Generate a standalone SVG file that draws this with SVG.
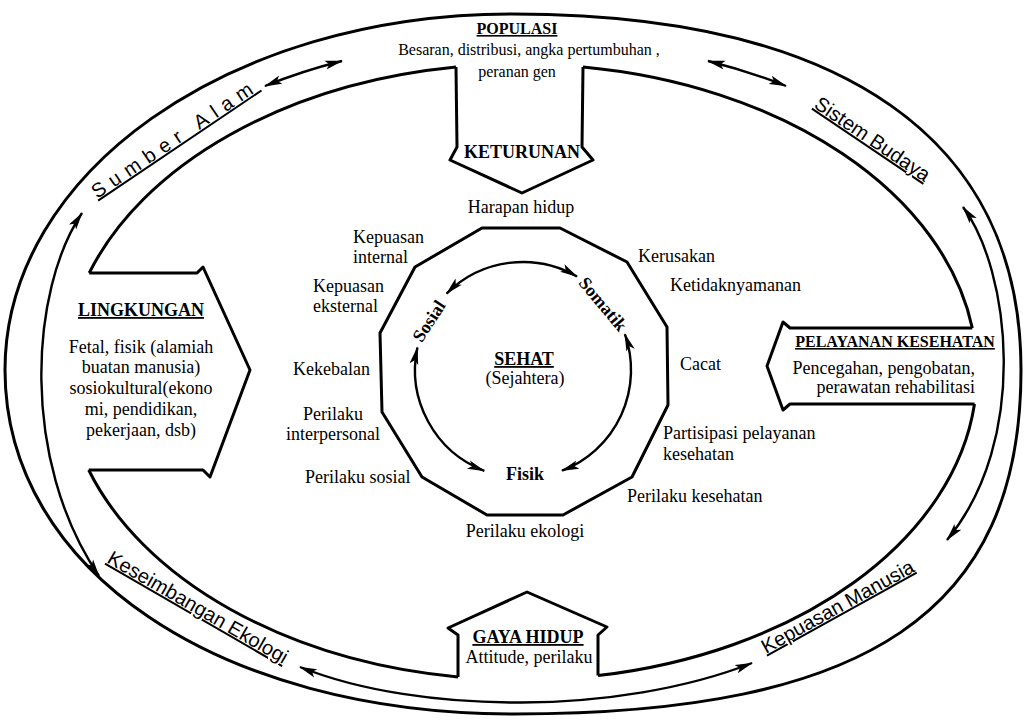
<svg xmlns="http://www.w3.org/2000/svg" width="1024" height="720" viewBox="0 0 1024 720">
  <style>
    .s { font-family: "Liberation Serif", "Times New Roman", serif; font-size: 18px; fill: #000; }
    .m { text-anchor: middle; }
    .b { font-weight: bold; }
    .u { text-decoration: underline; }
    .sm { font-size: 16px; }
    .band { font-family: "Liberation Sans", Arial, sans-serif; font-size: 20px; fill: #000; text-decoration: underline; }
    .ln { fill: none; stroke: #000; stroke-width: 3; stroke-linejoin: round; }
    .ar { fill: none; stroke: #000; stroke-width: 2.4; marker-start: url(#head); marker-end: url(#head); }
  </style>
  <defs>
    <marker id="head" markerUnits="userSpaceOnUse" markerWidth="18" markerHeight="10" refX="17" refY="5" orient="auto-start-reverse">
      <path d="M0,0.6 L18,5 L0,9.4 L4,5 z" fill="#000"/>
    </marker>
  </defs>
  <rect width="1024" height="720" fill="#fff"/>

  <!-- outer ring and the inner wall of the band -->
  <g id="ring">
    <path class="ln" d="M5 370 C5 173 228 14 512 14 C843 14 1021 139 1021 370 C1021 611 869 714 514 714 C219 714 5 570 5 370 Z"/>
    <path class="ln" d="M456 67 A456 308 0 0 0 89.2 273"/>
    <path class="ln" d="M88.7 470 A456 308 0 0 0 458 677"/>
    <path class="ln" d="M598 675.6 A456 308 0 0 0 974.5 404"/>
    <path class="ln" d="M972.3 328 A456 308 0 0 0 583 67"/>
  </g>

  <!-- band labels -->
  <g id="band-labels">
    <text class="band" x="97" y="199" letter-spacing="7" transform="rotate(-34 97 199)">Sumber Alam</text>
    <text class="band" x="813" y="107" transform="rotate(34 813 107)">Sistem Budaya</text>
    <text class="band" x="106" y="562" transform="rotate(30 106 562)">Keseimbangan Ekologi</text>
    <text class="band" x="766" y="654" font-size="21" transform="rotate(-29 766 654)">Kepuasan Manusia</text>
  </g>

  <!-- two-way flows around the band and around the centre -->
  <g id="connectors">
    <path class="ar" d="M265 86 Q302 71 342 61"/>
    <path class="ar" d="M708 61 Q748 71 786 86"/>
    <path class="ar" d="M82 213 C30 290 20 460 99 576"/>
    <path class="ar" d="M963 207 C1010 270 1030 440 947 540"/>
    <path class="ar" d="M300 667 C420 715 620 715 752 663"/>
    <path class="ar" d="M446.6 293.6 A108 108 0 0 1 577 276.5"/>
    <path class="ar" d="M624.9 334.1 A108 108 0 0 1 562 470.7"/>
    <path class="ar" d="M417.4 347.5 A108 108 0 0 0 484.3 470.8"/>
  </g>

  <!-- POPULASI / KETURUNAN -->
  <g id="node-populasi">
    <path class="ln" d="M456 67 L457 147 L450 160 L522 193 L593 160 L582 147 L583 67"/>
    <text class="s sm b u m" x="517" y="34">POPULASI</text>
    <text class="s sm m" x="529" y="55">Besaran, distribusi, angka pertumbuhan ,</text>
    <text class="s sm m" x="517" y="77">peranan gen</text>
    <text class="s b m" x="522" y="158">KETURUNAN</text>
  </g>

  <!-- LINGKUNGAN -->
  <g id="node-lingkungan">
    <path class="ln" d="M89.2 273 L197 273 L203 267 L250 370 L210 477 L203 470 L88.7 470"/>
    <text class="s b u m" x="141" y="316">LINGKUNGAN</text>
    <text class="s m" x="141" y="353">Fetal, fisik (alamiah</text>
    <text class="s m" x="141" y="373">buatan manusia)</text>
    <text class="s m" x="141" y="394">sosiokultural(ekono</text>
    <text class="s m" x="141" y="415">mi, pendidikan,</text>
    <text class="s m" x="141" y="436">pekerjaan, dsb)</text>
  </g>

  <!-- PELAYANAN KESEHATAN -->
  <g id="node-pelayanan">
    <path class="ln" d="M972.3 328 L790 328 L783 322 L767 366 L783 410 L790 404 L974.5 404"/>
    <text class="s sm b u m" x="895" y="347">PELAYANAN KESEHATAN</text>
    <text class="s" x="975" y="374" text-anchor="end" font-size="17.5">Pencegahan, pengobatan,</text>
    <text class="s" x="975" y="393" text-anchor="end" font-size="17.5">perawatan rehabilitasi</text>
  </g>

  <!-- GAYA HIDUP -->
  <g id="node-gaya-hidup">
    <path class="ln" d="M458 677 L458 635 L448 628 L527 592 L607 627 L598 635 L598 675.6"/>
    <text class="s b u m" x="528" y="643">GAYA HIDUP</text>
    <text class="s m" x="529" y="663">Attitude, perilaku</text>
  </g>

  <!-- SEHAT: dodecagon with its indicators -->
  <g id="node-sehat">
    <polygon class="ln" points="482,228 560,228 627,262 667,327 668,405 632,477 563,515 487,515 422,477 382,412 380,333 415,267"/>
    <text class="s b u m" x="524" y="365">SEHAT</text>
    <text class="s m" x="525" y="384">(Sejahtera)</text>
    <text class="s b m" transform="translate(429 321) rotate(-57)" y="6">Sosial</text>
    <text class="s b m" transform="translate(603 304) rotate(50)" y="6">Somatik</text>
    <text class="s b m" x="525" y="480">Fisik</text>
  </g>

  <g id="indicators">
    <text class="s m" x="521" y="213">Harapan hidup</text>
    <text class="s" x="353" y="243">Kepuasan</text>
    <text class="s" x="353" y="263">internal</text>
    <text class="s" x="313" y="292">Kepuasan</text>
    <text class="s" x="313" y="312">eksternal</text>
    <text class="s" x="293" y="375">Kekebalan</text>
    <text class="s m" x="333" y="420">Perilaku</text>
    <text class="s m" x="333" y="440">interpersonal</text>
    <text class="s" x="305" y="483">Perilaku sosial</text>
    <text class="s m" x="525" y="537">Perilaku ekologi</text>
    <text class="s" x="638" y="262">Kerusakan</text>
    <text class="s" x="670" y="291">Ketidaknyamanan</text>
    <text class="s" x="680" y="370">Cacat</text>
    <text class="s" x="663" y="439">Partisipasi pelayanan</text>
    <text class="s" x="663" y="460">kesehatan</text>
    <text class="s" x="627" y="502">Perilaku kesehatan</text>
  </g>
</svg>
